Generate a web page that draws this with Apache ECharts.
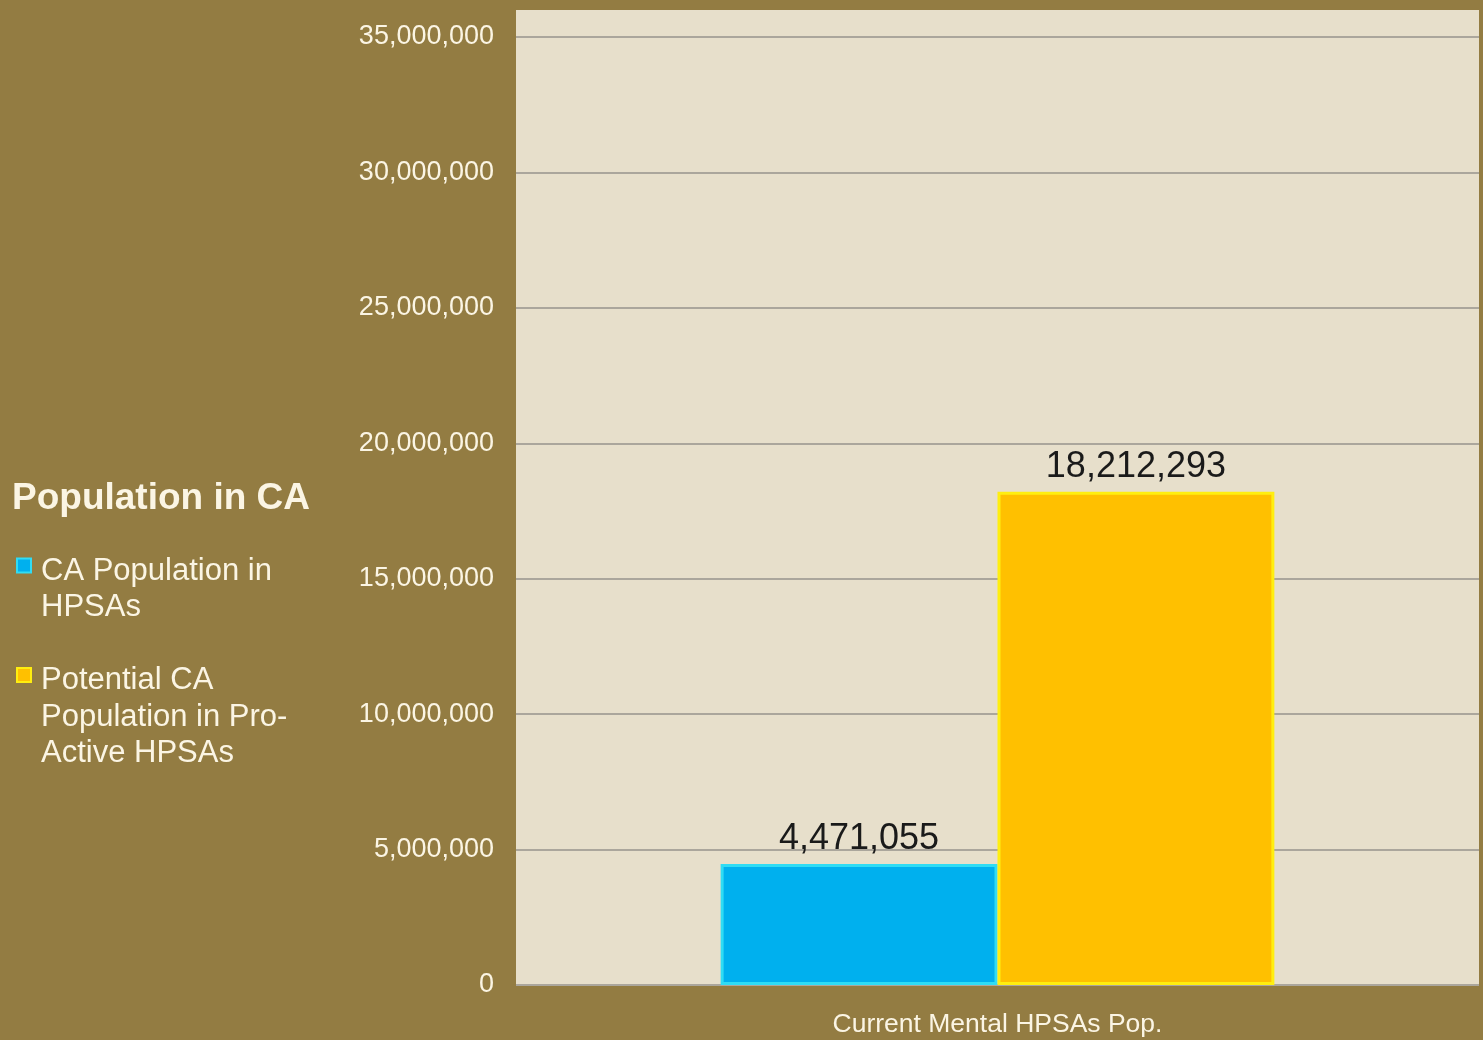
<!DOCTYPE html>
<html>
<head>
<meta charset="utf-8">
<script src="https://cdn.jsdelivr.net/npm/echarts@6/dist/echarts.min.js"></script>
<style>
html,body{margin:0;padding:0;background:#937C42;}
#chart{width:1483px;height:1040px;}
</style>
</head>
<body>
<div id="chart"></div>
<script>
const categories = ['Current Mental HPSAs Pop.'];
const seriesNames = ['CA Population in HPSAs', 'Potential CA Population in Pro-Active HPSAs'];
const legendLabels = ['CA Population in\nHPSAs\n', 'Potential CA\nPopulation in Pro-\nActive HPSAs'];
const currentValues = [4471055];
const potentialValues = [18212293];
const yMin = 0, yMax = 35000000, yInterval = 5000000;
const legendTitle = 'Population in CA';

const chart = echarts.init(document.getElementById('chart'), null, {renderer: 'canvas'});
const fmt = v => Math.round(v).toLocaleString('en-US');
const iconPath = 'path://M0,11h14v14h-14z M19,109.5L19.01,109.5';

chart.setOption({
  backgroundColor: '#937C42',
  animation: false,
  title: {
    text: legendTitle,
    left: 7, top: 475,
    textStyle: {color: '#FBF5E4', fontSize: 37, fontWeight: 'bold', fontFamily: 'Liberation Sans'}
  },
  legend: {
    orient: 'vertical',
    left: 11, top: 548,
    itemWidth: 19, itemHeight: 109.5,
    itemGap: 0,
    icon: iconPath,
    data: seriesNames,
    formatter: name => legendLabels[seriesNames.indexOf(name)],
    textStyle: {color: '#FBF5E4', fontSize: 31, lineHeight: 36.5, fontFamily: 'Liberation Sans'},
    selectedMode: false
  },
  graphic: [{
    type: 'rect', z: -10, silent: true,
    shape: {x: 516, y: 10, width: 963, height: 975},
    style: {fill: '#E7DFCB'}
  }],
  grid: {left: 516, right: 4, top: 37, bottom: 55, containLabel: false},
  xAxis: {
    type: 'category',
    data: categories,
    axisLine: {show: false},
    axisTick: {show: false},
    axisLabel: {color: '#FBF5E4', fontSize: 26.5, margin: 26, fontFamily: 'Liberation Sans'}
  },
  yAxis: {
    type: 'value',
    min: yMin, max: yMax, interval: yInterval,
    axisLine: {show: false},
    axisTick: {show: false},
    axisLabel: {color: '#FBF5E4', fontSize: 27, margin: 22, padding: [4, 0, 0, 0], fontFamily: 'Liberation Sans', formatter: v => fmt(v)},
    splitLine: {lineStyle: {color: '#ABA69C', width: 2}}
  },
  series: [{
    name: seriesNames[0],
    type: 'bar',
    data: currentValues,
    barGap: '0%',
    barCategoryGap: '42.5%',
    itemStyle: {color: '#00B0EE', borderColor: '#30DCF4', borderWidth: 3},
    label: {show: true, position: 'top', distance: 7, color: '#1A1A1A', fontSize: 36, fontFamily: 'Liberation Sans', formatter: p => fmt(p.value)}
  }, {
    name: seriesNames[1],
    type: 'bar',
    data: potentialValues,
    barGap: '0%',
    barCategoryGap: '42.5%',
    itemStyle: {color: '#FFC000', borderColor: '#FFEE10', borderWidth: 3},
    label: {show: true, position: 'top', distance: 7, color: '#1A1A1A', fontSize: 36, fontFamily: 'Liberation Sans', formatter: p => fmt(p.value)}
  }]
});
</script>
</body>
</html>
